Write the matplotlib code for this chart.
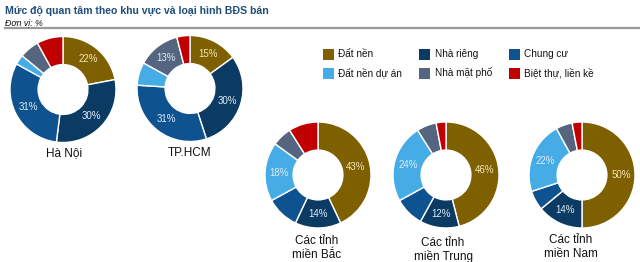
import matplotlib.pyplot as plt
from matplotlib.lines import Line2D
from matplotlib.patches import Rectangle

plt.rcParams['font.family'] = ['Liberation Sans', 'DejaVu Sans']

categories = ['Đất nền', 'Nhà riêng', 'Chung cư',
              'Đất nền dự án', 'Nhà mặt phố', 'Biệt thự, liền kề']
colors = ['#7F6000', '#0B3A63', '#0F5290', '#45ACE6', '#55657F', '#C00000']

regions = ['Hà Nội', 'TP.HCM', 'Các tỉnh\nmiền Bắc',
           'Các tỉnh\nmiền Trung', 'Các tỉnh\nmiền Nam']
ha_noi = [22, 30, 31, 3, 6, 8]
tp_hcm = [15, 30, 31, 7, 13, 4]
mien_bac = [43, 14, 10, 18, 6, 9]
mien_trung = [46, 12, 9, 24, 6, 3]
mien_nam = [50, 14, 6, 22, 5, 3]
values = [ha_noi, tp_hcm, mien_bac, mien_trung, mien_nam]

W, H = 640, 262
fig = plt.figure(figsize=(W / 100, H / 100), dpi=100)

# title block
fig.text(5 / W, 1 - 11 / H, 'Mức độ quan tâm theo khu vực và loại hình BĐS bán',
         fontsize=7.6, fontweight='bold', color='#1F4E79', va='center')
fig.text(5 / W, 1 - 22.5 / H, 'Đơn vị: %', fontsize=6.3, style='italic',
         color='#111111', va='center')
fig.add_artist(Line2D([5 / W, 1], [1 - 28 / H, 1 - 28 / H], color='#9A9A9A',
                      lw=1.6, transform=fig.transFigure))

# donut centres / radius / label position in pixels
centres = [(63, 89.5), (190, 88.5), (318, 175), (446, 175), (582, 175)]
label_pos = [(64, 153), (190, 153), (317, 248), (443, 250), (571, 247)]
radius = 53

for vals, (cx, cy), name, (lx, ly) in zip(values, centres, regions, label_pos):
    ax = fig.add_axes([(cx - radius) / W, 1 - (cy + radius) / H,
                       2 * radius / W, 2 * radius / H])
    wedges, texts, autotexts = ax.pie(
        vals, colors=colors, startangle=90, counterclock=False,
        wedgeprops=dict(width=0.53, edgecolor='white', linewidth=1.0),
        autopct=lambda p: f'{p:.0f}%' if p >= 12 else '',
        pctdistance=0.735, textprops=dict(fontsize=7))
    for i, t in enumerate(autotexts):
        t.set_color('#F2E6B8' if i == 0 else '#DDEBF7')
    ax.set_xlim(-1, 1)
    ax.set_ylim(-1, 1)
    ax.set_aspect('equal')
    ax.axis('off')
    fig.text(lx / W, 1 - ly / H, name, fontsize=8.5, ha='center',
             va='center', color='#111111', linespacing=1.15)

# legend
leg_x = [(323, 338), (419, 435), (509, 524)]
leg_y = [54, 73]
for i, (cat, col) in enumerate(zip(categories, colors)):
    sx, tx = leg_x[i % 3]
    y = leg_y[i // 3]
    fig.add_artist(Rectangle((sx / W, 1 - (y + 5.5) / H), 11 / W, 11 / H,
                             facecolor=col, edgecolor='none',
                             transform=fig.transFigure))
    fig.text(tx / W, 1 - y / H, cat, fontsize=7.2, va='center',
             color='#111111')

fig.savefig('out.png', dpi=100)
